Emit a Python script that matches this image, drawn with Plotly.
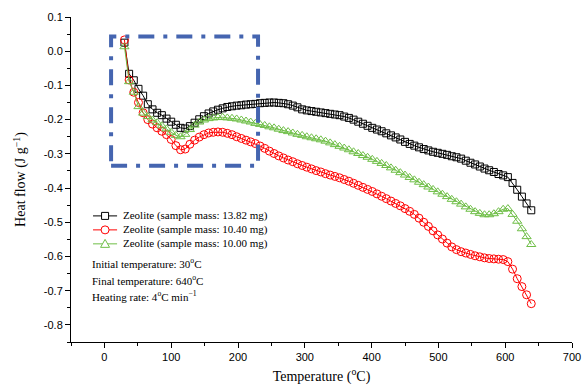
import plotly.graph_objects as go

temperature = [30,37,44,51,58,65,72,79,86,93,100,107,114,121,128,135,142,149,156,163,170,177,184,191,198,
               205,212,219,226,233,240,247,254,261,268,275,282,289,296,303,310,317,324,331,338,345,352,359,
               366,373,380,387,394,401,408,415,422,429,436,443,450,457,464,471,478,485,492,499,506,513,520,
               527,534,541,548,555,562,569,576,583,590,597,604,611,618,625,632,639]

hf_1382 = [0.025,-0.066,-0.085,-0.110,-0.130,-0.155,-0.170,-0.180,-0.187,-0.197,-0.206,-0.215,-0.224,-0.226,
           -0.219,-0.209,-0.199,-0.190,-0.182,-0.176,-0.171,-0.167,-0.163,-0.161,-0.159,-0.158,-0.156,-0.155,
           -0.154,-0.152,-0.151,-0.150,-0.150,-0.151,-0.152,-0.155,-0.159,-0.164,-0.170,-0.173,-0.175,-0.177,
           -0.179,-0.181,-0.183,-0.185,-0.187,-0.191,-0.195,-0.200,-0.206,-0.212,-0.218,-0.224,-0.229,-0.234,
           -0.240,-0.246,-0.252,-0.258,-0.265,-0.271,-0.276,-0.281,-0.286,-0.290,-0.294,-0.297,-0.300,-0.303,
           -0.307,-0.310,-0.314,-0.320,-0.326,-0.331,-0.337,-0.343,-0.348,-0.353,-0.359,-0.363,-0.368,-0.385,
           -0.405,-0.425,-0.445,-0.465]

hf_1040 = [0.033,-0.084,-0.120,-0.150,-0.180,-0.200,-0.213,-0.224,-0.234,-0.244,-0.258,-0.276,-0.288,-0.286,
           -0.272,-0.260,-0.251,-0.244,-0.239,-0.237,-0.236,-0.237,-0.240,-0.244,-0.250,-0.255,-0.260,-0.265,
           -0.270,-0.277,-0.284,-0.292,-0.299,-0.306,-0.312,-0.318,-0.323,-0.329,-0.334,-0.339,-0.344,-0.349,
           -0.353,-0.358,-0.362,-0.366,-0.370,-0.375,-0.380,-0.386,-0.392,-0.398,-0.404,-0.410,-0.417,-0.424,
           -0.431,-0.438,-0.445,-0.452,-0.460,-0.468,-0.477,-0.488,-0.500,-0.512,-0.525,-0.537,-0.549,-0.561,
           -0.572,-0.580,-0.586,-0.590,-0.594,-0.598,-0.601,-0.604,-0.606,-0.607,-0.608,-0.609,-0.615,-0.637,
           -0.665,-0.688,-0.712,-0.738]

hf_1000 = [0.013,-0.089,-0.120,-0.162,-0.181,-0.191,-0.201,-0.209,-0.218,-0.227,-0.237,-0.246,-0.250,-0.243,
           -0.229,-0.216,-0.207,-0.201,-0.197,-0.195,-0.194,-0.193,-0.195,-0.196,-0.198,-0.201,-0.204,-0.207,
           -0.211,-0.214,-0.217,-0.221,-0.224,-0.228,-0.232,-0.235,-0.239,-0.243,-0.246,-0.250,-0.253,-0.256,
           -0.259,-0.263,-0.268,-0.273,-0.278,-0.283,-0.288,-0.294,-0.299,-0.305,-0.310,-0.316,-0.322,-0.328,
           -0.334,-0.341,-0.348,-0.355,-0.362,-0.369,-0.376,-0.383,-0.390,-0.397,-0.404,-0.411,-0.418,-0.425,
           -0.433,-0.440,-0.447,-0.455,-0.462,-0.469,-0.474,-0.478,-0.478,-0.475,-0.469,-0.462,-0.460,-0.477,
           -0.497,-0.519,-0.542,-0.565]

series_names = ["Zeolite (sample mass: 13.82 mg)",
                "Zeolite (sample mass: 10.40 mg)",
                "Zeolite (sample mass: 10.00 mg)"]
notes = ["Initial temperature: 30<sup>o</sup>C",
         "Final temperature: 640<sup>o</sup>C",
         "Heating rate: 4<sup>o</sup>C min<sup>\u22121</sup>"]
zoom_box_x = [10, 230]
zoom_box_y = [-0.335, 0.043]

serif = "Liberation Serif, Times New Roman, serif"
sans = "Liberation Sans, Arial, sans-serif"
green = "rgb(110,190,70)"

fig = go.Figure()
styles = [
    (hf_1382, "black", "square-open", 7),
    (hf_1040, "red", "circle-open", 8),
    (hf_1000, green, "triangle-up-open", 8),
]
for (vals, col, sym, sz), name in zip(styles, series_names):
    fig.add_trace(go.Scatter(
        x=temperature, y=vals, name=name, mode="lines+markers", showlegend=False,
        line=dict(color=col, width=1),
        marker=dict(symbol=sym, size=sz, color=col, line=dict(color=col, width=1)),
    ))

# manual legend drawn with paper-anchored shapes
leg_y = [0.388, 0.345, 0.302]
leg_x0, leg_x1 = 0.044, 0.092
leg_xm = (leg_x0 + leg_x1) / 2
marker_paths = ["M -3.5,-3.5 L 3.5,-3.5 L 3.5,3.5 L -3.5,3.5 Z",
                None,
                "M -4.5,-3.5 L 4.5,-3.5 L 0,4.5 Z"]
for (vals, col, sym, sz), name, yy, mp in zip(styles, series_names, leg_y, marker_paths):
    fig.add_shape(type="line", xref="paper", yref="paper", x0=leg_x0, x1=leg_x1, y0=yy, y1=yy,
                  line=dict(color=col, width=1))
    common = dict(xref="paper", yref="paper", xsizemode="pixel", ysizemode="pixel",
                  xanchor=leg_xm, yanchor=yy, fillcolor="white", line=dict(color=col, width=1))
    if mp is None:
        fig.add_shape(type="circle", x0=-4, x1=4, y0=-4, y1=4, **common)
    else:
        fig.add_shape(type="path", path=mp, **common)
    fig.add_annotation(text=name, xref="paper", yref="paper", x=leg_x1 + 0.008, y=yy,
                       xanchor="left", yanchor="middle", showarrow=False,
                       font=dict(family=serif, size=11, color="black"))

fig.add_shape(type="rect", xref="x", yref="y",
              x0=zoom_box_x[0], x1=zoom_box_x[1], y0=zoom_box_y[0], y1=zoom_box_y[1],
              line=dict(color="#4565B0", width=4, dash="16px,9px,4px,9px"))

note_y = [0.243, 0.191, 0.141]
for t, yy in zip(notes, note_y):
    fig.add_annotation(text=t, xref="paper", yref="paper", x=0.038, y=yy,
                       xanchor="left", yanchor="middle", showarrow=False,
                       font=dict(family=serif, size=11, color="black"))

fig.update_layout(
    width=585, height=389,
    margin=dict(l=71, r=13, t=17, b=47),
    plot_bgcolor="white", paper_bgcolor="white",
    showlegend=False,
    xaxis=dict(range=[-50, 700], tickvals=[0,100,200,300,400,500,600,700], automargin=False,
               showgrid=False, zeroline=False, showline=True, linecolor="black", linewidth=1,
               ticks="outside", ticklen=5, tickcolor="black",
               minor=dict(tickvals=[-50,50,150,250,350,450,550,650], ticks="outside", ticklen=3, tickcolor="black"),
               tickfont=dict(family=sans, size=11, color="black"),
               title=dict(text="Temperature (<sup>o</sup>C)", font=dict(family=serif, size=14, color="black"), standoff=8)),
    yaxis=dict(range=[-0.85, 0.1], tickvals=[0.1,0.0,-0.1,-0.2,-0.3,-0.4,-0.5,-0.6,-0.7,-0.8], automargin=False,
               ticktext=["0.1","0.0","-0.1","-0.2","-0.3","-0.4","-0.5","-0.6","-0.7","-0.8"],
               showgrid=False, zeroline=False, showline=True, linecolor="black", linewidth=1,
               ticks="outside", ticklen=5, tickcolor="black",
               minor=dict(tickvals=[0.05,-0.05,-0.15,-0.25,-0.35,-0.45,-0.55,-0.65,-0.75,-0.85], ticks="outside", ticklen=3, tickcolor="black"),
               tickfont=dict(family=sans, size=11, color="black"),
               title=dict(text="Heat flow (J g<sup>\u22121</sup>)", font=dict(family=serif, size=14, color="black"), standoff=14)),
)

fig.write_html("out.html")
